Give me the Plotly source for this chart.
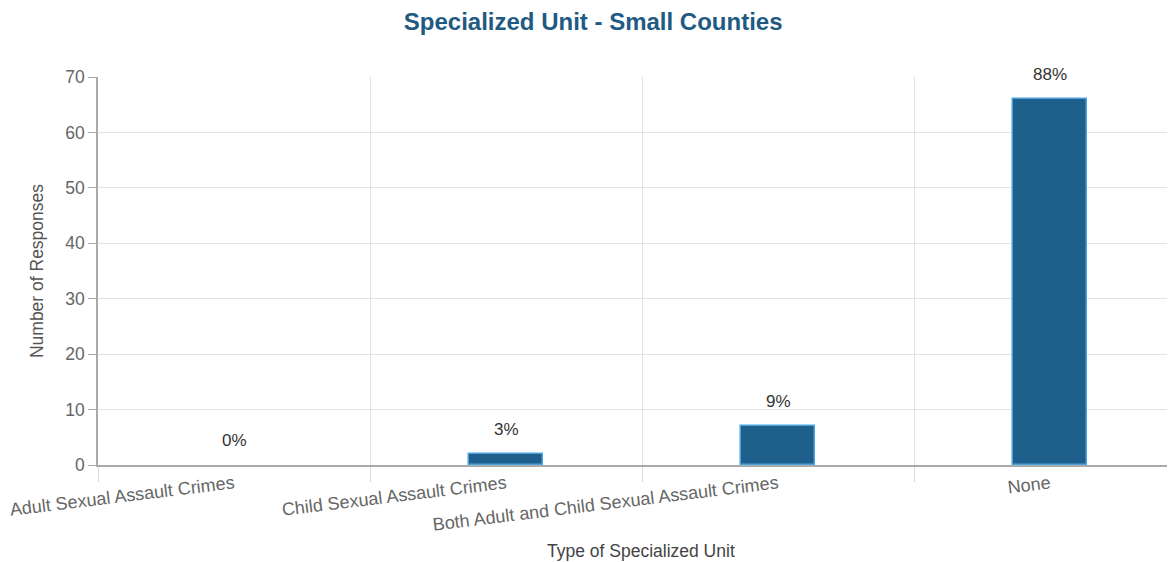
import plotly.graph_objects as go

categories = ["Adult Sexual Assault Crimes", "Child Sexual Assault Crimes",
              "Both Adult and Child Sexual Assault Crimes", "None"]
responses = [0, 2, 7, 66]
percent_labels = ["0%", "3%", "9%", "88%"]

W, H = 1175, 562
ml, mr, mt, mb = 90, 0, 69, 105
FONT = "Liberation Sans, Arial, sans-serif"

fig = go.Figure()
fig.add_trace(go.Bar(
    x=categories, y=responses, width=0.27,
    marker=dict(color="#1f5f8b",
                line=dict(color="#4aa3df", width=[0 if v == 0 else 1.5 for v in responses])),
    hoverinfo="x+y", showlegend=False,
))

for c, v, t in zip(categories, responses, percent_labels):
    fig.add_annotation(x=c, y=v, text=t, showarrow=False, yanchor="bottom",
                       yshift=13, font=dict(size=17, color="#333333", family=FONT))

# x-axis title placed as annotation below the tick labels
fig.add_annotation(x=0.5, xref="paper", y=0, yref="paper", yanchor="middle",
                   yshift=-86, showarrow=False, text="Type of Specialized Unit",
                   font=dict(size=17.5, color="#444444", family=FONT))

fig.update_layout(
    width=W, height=H,
    margin=dict(l=ml, r=mr, t=mt, b=mb),
    paper_bgcolor="white", plot_bgcolor="white",
    font=dict(family=FONT, color="#666666"),
    title=dict(text="<b>Specialized Unit - Small Counties</b>", x=0.498, xref="container",
               xanchor="center", y=0.975, yref="container", yanchor="middle",
               font=dict(size=24, color="#1f5a82", family=FONT)),
    bargap=0,
)

fig.update_xaxes(
    type="category", range=[-0.5, -0.5 + (W - ml - mr) / 272.0],
    tickson="boundaries", ticks="outside", ticklen=15, tickcolor="#dddddd",
    showgrid=True, gridcolor="#e3e3e3", gridwidth=1,
    showline=True, linecolor="#aaaaaa", linewidth=1.5,
    tickangle=-7, tickfont=dict(size=18, color="#666666"),
    zeroline=False, automargin=False,
)
fig.update_yaxes(
    range=[0, 70], dtick=10, showgrid=True, gridcolor="#e3e3e3", gridwidth=1,
    showline=True, linecolor="#aaaaaa", linewidth=1.5,
    ticks="outside", ticklen=8, tickcolor="#aaaaaa",
    tickfont=dict(size=17.5, color="#666666"),
    title=dict(text="Number of Responses", font=dict(size=17.5, color="#555555"), standoff=17),
    zeroline=False, automargin=False,
)

fig.write_html("out.html")
